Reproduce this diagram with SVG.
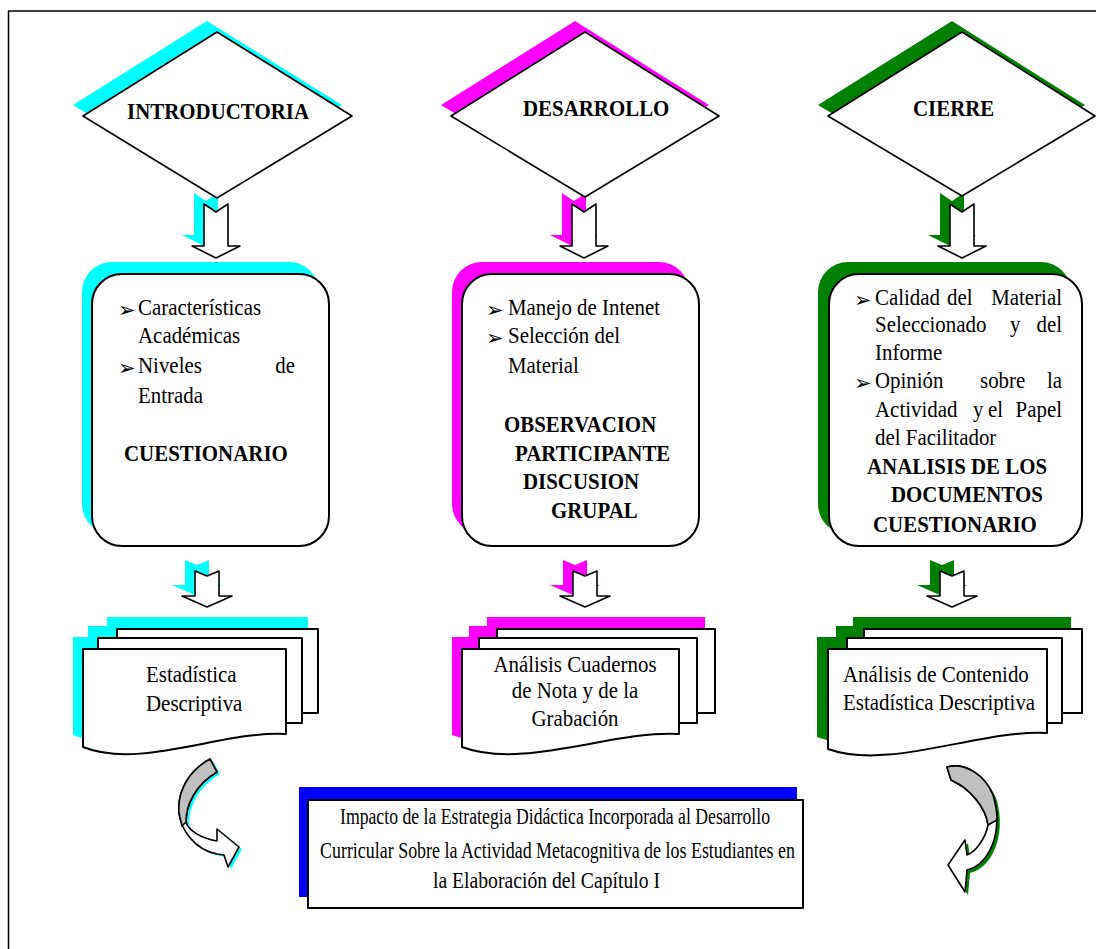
<svg xmlns="http://www.w3.org/2000/svg" xmlns:xlink="http://www.w3.org/1999/xlink" width="1096" height="949" viewBox="0 0 1096 949">
<style>
.t{font-family:"Liberation Serif","Times New Roman",serif;font-size:23.5px;fill:#000}
.b{font-weight:bold}
.bul{font-family:"DejaVu Sans",sans-serif;font-size:21px;fill:#000}
.ol{fill:#fff;stroke:#000;stroke-width:2;stroke-linejoin:round}
.ol15{fill:#fff;stroke:#000;stroke-width:1.6;stroke-linejoin:round}
.grey{fill:#c0c0c0;stroke:#000;stroke-width:1.6;stroke-linejoin:round}
.cy{fill:#00ffff}
.mg{fill:#ff00ff}
.gr{fill:#008000}
.bl{fill:#0000ff}
</style>
<defs>
<path id="bigArrow" d="M-12,204 L0,212 L12,204 L12,246 L24,246 L0,258 L-24,246 L-12,246 Z"/>
<path id="smallArrow" d="M-12,571 L0,576 L12,571 L12,596 L25,596 L0,607 L-25,596 L-12,596 Z"/>
</defs>
<rect width="1096" height="949" fill="#fff"/>
<g id="frame" fill="none" stroke="#000" stroke-width="1.5">
<line x1="8.5" y1="11" x2="8.5" y2="949"/>
<line x1="8" y1="11" x2="1096" y2="11"/>
</g>

<g id="connectors">
<use xlink:href="#bigArrow" class="cy" transform="translate(206,-11)"/>
<use xlink:href="#bigArrow" class="ol15" transform="translate(216,0)"/>
<use xlink:href="#bigArrow" class="mg" transform="translate(574,-11)"/>
<use xlink:href="#bigArrow" class="ol15" transform="translate(584,0)"/>
<use xlink:href="#bigArrow" class="gr" transform="translate(952,-11)"/>
<use xlink:href="#bigArrow" class="ol15" transform="translate(962,0)"/>
<use xlink:href="#smallArrow" class="cy" transform="translate(197,-11)"/>
<use xlink:href="#smallArrow" class="ol15" transform="translate(207,0)"/>
<use xlink:href="#smallArrow" class="mg" transform="translate(575,-11)"/>
<use xlink:href="#smallArrow" class="ol15" transform="translate(585,0)"/>
<use xlink:href="#smallArrow" class="gr" transform="translate(942,-11)"/>
<use xlink:href="#smallArrow" class="ol15" transform="translate(952,0)"/>
<g id="curveLeft">
<path class="cy" transform="translate(3,2)" d="M210,759 C190,770 177,790 179,813 C181,830 195,850 217,854 L224,855 L228,867 L239,847 L217,829 L217,841 C200,838 188,830 186,822 C186,805 195,785 217,772 Z"/>
<path class="ol15" d="M210,759 C190,770 177,790 179,813 C181,830 195,850 217,854 L224,855 L228,867 L239,847 L217,829 L217,841 C200,838 188,830 186,822 C186,805 195,785 217,772 Z"/>
<path class="grey" d="M210,759 C190,770 177,790 179,813 L182,826 L186,822 C186,805 195,785 217,772 Z"/>
</g>
<g id="curveRight">
<path class="gr" transform="translate(3,3)" d="M947,767 C965,762 985,775 993,795 C999,812 998,835 990,850 C984,862 975,868 967,870 L965,892 L948,865 L965,840 L967,855 C975,852 985,840 988,825 C986,808 970,788 951,780 Z"/>
<path class="ol15" d="M947,767 C965,762 985,775 993,795 C999,812 998,835 990,850 C984,862 975,868 967,870 L965,892 L948,865 L965,840 L967,855 C975,852 985,840 988,825 C986,808 970,788 951,780 Z"/>
<path class="grey" d="M947,767 C965,762 985,775 993,795 C996,805 997,812 997,820 L988,825 C986,808 970,788 951,780 Z"/>
</g>
</g>

<g id="introductoria">
<polygon class="cy" points="73,105 207,21 342,105 207,187"/>
<polygon class="ol15" points="83,116 217,32 352,116 217,198"/>
<text class="t b" transform="translate(218,119) scale(.89,1)" text-anchor="middle">INTRODUCTORIA</text>
</g>
<g id="desarrollo">
<polygon class="mg" points="441,105 575,21 709,105 575,186"/>
<polygon class="ol15" points="451,116 585,32 719,116 585,197"/>
<text class="t b" transform="translate(523,116) scale(.89,1)">DESARROLLO</text>
</g>
<g id="cierre">
<polygon class="gr" points="818,105 952,21 1085,105 952,185"/>
<polygon class="ol15" points="828,116 962,32 1095,116 962,196"/>
<text class="t b" transform="translate(913,116) scale(.89,1)">CIERRE</text>
</g>

<g id="box1">
<rect class="cy" x="82" y="262" width="237" height="272" rx="30"/>
<rect class="ol" x="92" y="274" width="237" height="272" rx="30"/>
<text class="bul" x="118" y="317">➢</text>
<text class="t" transform="translate(138,315) scale(.89,1)">Características</text>
<text class="t" transform="translate(138,343) scale(.89,1)">Académicas</text>
<text class="bul" x="118" y="375">➢</text>
<text class="t" transform="translate(138,373) scale(.89,1)">Niveles</text>
<text class="t" transform="translate(295,373) scale(.89,1)" text-anchor="end">de</text>
<text class="t" transform="translate(138,403) scale(.89,1)">Entrada</text>
<text class="t b" transform="translate(124,461) scale(.89,1)">CUESTIONARIO</text>
</g>
<g id="box2">
<rect class="mg" x="452" y="262" width="237" height="272" rx="30"/>
<rect class="ol" x="462" y="274" width="237" height="272" rx="30"/>
<text class="bul" x="486" y="317">➢</text>
<text class="t" transform="translate(508,315) scale(.89,1)">Manejo de Intenet</text>
<text class="bul" x="486" y="345">➢</text>
<text class="t" transform="translate(508,343) scale(.89,1)">Selección del</text>
<text class="t" transform="translate(508,373) scale(.89,1)">Material</text>
<text class="t b" transform="translate(504,432) scale(.89,1)">OBSERVACION</text>
<text class="t b" transform="translate(515,461) scale(.89,1)">PARTICIPANTE</text>
<text class="t b" transform="translate(523,489) scale(.89,1)">DISCUSION</text>
<text class="t b" transform="translate(551,518) scale(.89,1)">GRUPAL</text>
</g>
<g id="box3">
<rect class="gr" x="818" y="262" width="253" height="272" rx="30"/>
<rect class="ol" x="829" y="274" width="253" height="272" rx="30"/>
<text class="bul" x="854" y="307">➢</text>
<text class="t" transform="translate(875,305) scale(.89,1)">Calidad</text>
<text class="t" transform="translate(947,305) scale(.89,1)">del</text>
<text class="t" transform="translate(1062,305) scale(.89,1)" text-anchor="end">Material</text>
<text class="t" transform="translate(875,332) scale(.89,1)">Seleccionado</text>
<text class="t" transform="translate(1010,332) scale(.89,1)">y</text>
<text class="t" transform="translate(1062,332) scale(.89,1)" text-anchor="end">del</text>
<text class="t" transform="translate(875,360) scale(.89,1)">Informe</text>
<text class="bul" x="854" y="390">➢</text>
<text class="t" transform="translate(875,388) scale(.89,1)">Opinión</text>
<text class="t" transform="translate(980,388) scale(.89,1)">sobre</text>
<text class="t" transform="translate(1062,388) scale(.89,1)" text-anchor="end">la</text>
<text class="t" transform="translate(875,417) scale(.89,1)">Actividad</text>
<text class="t" transform="translate(973,417) scale(.89,1)">y</text>
<text class="t" transform="translate(988,417) scale(.89,1)">el</text>
<text class="t" transform="translate(1062,417) scale(.89,1)" text-anchor="end">Papel</text>
<text class="t" transform="translate(875,445) scale(.89,1)">del Facilitador</text>
<text class="t b" transform="translate(867,474) scale(.89,1)">ANALISIS DE LOS</text>
<text class="t b" transform="translate(891,502) scale(.89,1)">DOCUMENTOS</text>
<text class="t b" transform="translate(873,532) scale(.89,1)">CUESTIONARIO</text>
</g>

<g id="doc1">
<g class="cy" transform="translate(-10,-12)">
<rect x="117" y="629" width="201" height="84"/>
<rect x="98" y="638" width="204" height="85"/>
<path d="M83,649 L286,649 L286,734 C225,730 140,770 83,747 Z"/>
</g>
<rect class="ol" x="117" y="629" width="201" height="84"/>
<rect class="ol" x="98" y="638" width="204" height="85"/>
<path class="ol" d="M83,649 L286,649 L286,734 C225,730 140,770 83,747 Z"/>
<text class="t" transform="translate(146,682) scale(.89,1)">Estadística</text>
<text class="t" transform="translate(146,711) scale(.89,1)">Descriptiva</text>
</g>
<g id="doc2">
<g class="mg" transform="translate(-10,-12)">
<rect x="497" y="629" width="218" height="84"/>
<rect x="479" y="638" width="218" height="85"/>
<path d="M462,649 L679,649 L679,734 C614,730 523,770 462,747 Z"/>
</g>
<rect class="ol" x="497" y="629" width="218" height="84"/>
<rect class="ol" x="479" y="638" width="218" height="85"/>
<path class="ol" d="M462,649 L679,649 L679,734 C614,730 523,770 462,747 Z"/>
<text class="t" transform="translate(575,672) scale(.89,1)" text-anchor="middle">Análisis Cuadernos</text>
<text class="t" transform="translate(575,698) scale(.89,1)" text-anchor="middle">de Nota y de la</text>
<text class="t" transform="translate(575,726) scale(.89,1)" text-anchor="middle">Grabación</text>
</g>
<g id="doc3">
<g class="gr" transform="translate(-11,-12)">
<rect x="864" y="629" width="218" height="84"/>
<rect x="847" y="638" width="215" height="85"/>
<path d="M828,649 L1047,649 L1047,733 C981,729 889,771 828,749 Z"/>
</g>
<rect class="ol" x="864" y="629" width="218" height="84"/>
<rect class="ol" x="847" y="638" width="215" height="85"/>
<path class="ol" d="M828,649 L1047,649 L1047,733 C981,729 889,771 828,749 Z"/>
<text class="t" transform="translate(843,682) scale(.89,1)">Análisis de Contenido</text>
<text class="t" transform="translate(843,710) scale(.89,1)">Estadística Descriptiva</text>
</g>

<g id="impacto">
<rect class="bl" x="299" y="787" width="498" height="110"/>
<rect class="ol" x="308" y="800" width="495" height="108"/>
<text class="t" x="340" y="824" textLength="430" lengthAdjust="spacingAndGlyphs">Impacto de la Estrategia Didáctica Incorporada al Desarrollo</text>
<text class="t" x="320" y="858" textLength="475" lengthAdjust="spacingAndGlyphs">Curricular Sobre la Actividad Metacognitiva de los Estudiantes en</text>
<text class="t" x="433" y="888" textLength="227" lengthAdjust="spacingAndGlyphs">la Elaboración del Capítulo I</text>
</g>
</svg>
